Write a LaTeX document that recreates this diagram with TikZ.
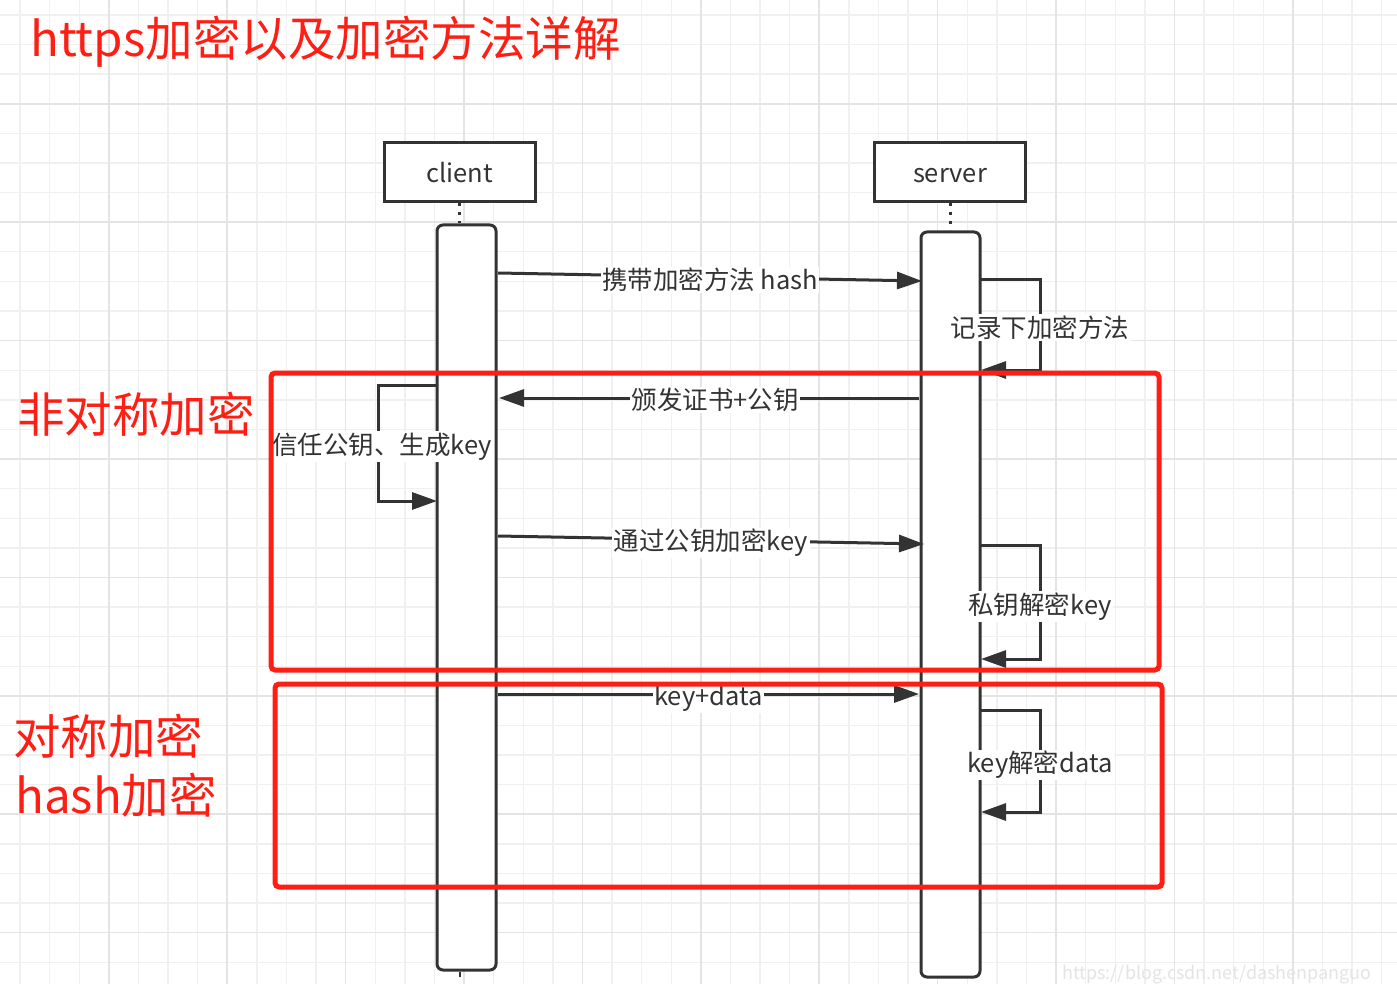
\documentclass[tikz,border=0pt]{standalone}
\usepackage{fontspec}
\setmainfont{Noto Sans CJK SC}
\usetikzlibrary{arrows.meta}
\definecolor{ink}{HTML}{333333}
\definecolor{redmark}{HTML}{FF1E14}
\definecolor{gridminor}{HTML}{F0F0F0}
\definecolor{gridmajor}{HTML}{E4E4E4}
\tikzset{
  minorline/.style={draw=gridminor, line width=1.4pt},
  majorline/.style={draw=gridmajor, line width=1.6pt},
  actor/.style={draw=ink, line width=3pt, fill=white, minimum width=151pt, minimum height=59pt, inner sep=0pt, text height=21pt, text depth=0pt, text=ink, font=\fontsize{25.5}{30}\selectfont},
  actbar/.style={draw=ink, line width=3pt, fill=white, rounded corners=6pt, minimum width=59pt, minimum height=745pt, inner sep=0pt},
  lifeline/.style={draw=ink, line width=3pt, dash pattern=on 3pt off 6pt},
  msg/.style={draw=ink, line width=3pt, -{Triangle[length=25pt,width=17pt]}},
  lbl/.style={fill=white, inner sep=1.5pt, text=ink, font=\fontsize{25.5}{30}\selectfont},
  redbox/.style={draw=redmark, line width=5pt, rounded corners=4pt},
  redtext/.style={text=redmark, inner sep=0pt, anchor=west, font=\fontsize{47.5}{56}\selectfont},
}
\begin{document}
\begin{tikzpicture}[x=1pt,y=-1pt]
\useasboundingbox (0,0) rectangle (1397,984);
\clip (0,0) rectangle (1397,984);
\fill[white] (0,0) rectangle (1397,984);
% grid
\foreach \i in {0,...,46} {\draw[minorline] ({20+29.6*\i},0) -- ++(0,984);}
\foreach \i in {0,...,33} {\draw[minorline] (0,{15+29.6*\i}) -- ++(1397,0);}
\foreach \i in {0,...,11} {\draw[majorline] ({108.8+118.4*\i},0) -- ++(0,984);}
\foreach \i in {0,...,7} {\draw[majorline] (0,{103.8+118.4*\i}) -- ++(1397,0);}

% title and side labels
\node[redtext] (title) at (30,42) {https加密以及加密方法详解};
\node[redtext] (asym) at (17,414) {非对称加密};
\node[redtext] (sym) at (13,736) {对称加密};
\node[redtext] (hashl) at (15,795) {hash加密};

% actors
\node[actor] (client) at (459.5,172.5) {client};
\node[actor] (server) at (950,172.5) {server};
\node[actbar] (cbar) at (466.5,597.5) {};
\node[actbar] (sbar) at (950.5,604.5) {};
\coordinate (ctail) at (459.5,977);
\draw[lifeline] (client.south) -- (client.south |- cbar.north);
\draw[lifeline] (server.south) -- (server.south |- sbar.north);
\draw[ink, line width=2pt] (cbar.south -| client.south) -- (ctail);

% message end points
\coordinate (m1a) at (498,273);
\coordinate (m1b) at (922,281);
\coordinate (s1a) at (981,280);
\coordinate (s1b) at (1040,280);
\coordinate (s1c) at (1040,370);
\coordinate (s1d) at (981,370);
\coordinate (m2a) at (919,398);
\coordinate (m2b) at (499,398);
\coordinate (c1a) at (437,385);
\coordinate (c1b) at (378,385);
\coordinate (c1c) at (378,501);
\coordinate (c1d) at (437,501);
\coordinate (m3a) at (498,536);
\coordinate (m3b) at (924,544);
\coordinate (s2a) at (981,545);
\coordinate (s2b) at (1040,545);
\coordinate (s2c) at (1040,659);
\coordinate (s2d) at (981,659);
\coordinate (m4a) at (498,694);
\coordinate (m4b) at (919,694);
\coordinate (s3a) at (981,710);
\coordinate (s3b) at (1040,710);
\coordinate (s3c) at (1040,812);
\coordinate (s3d) at (981,812);

% messages
\draw[msg] (m1a) -- node[lbl, pos=0.5, yshift=-3pt] (l1) {携带加密方法 hash} (m1b);
\draw[msg] (s1a) -- (s1b) -- node[lbl, pos=0.53] (l2) {记录下加密方法} (s1c) -- (s1d);
\draw[msg] (m2a) -- node[lbl, pos=0.485, yshift=-2pt] (l3) {颁发证书+公钥} (m2b);
\draw[msg] (c1a) -- (c1b) -- node[lbl, pos=0.53, xshift=4pt] (l4) {信任公钥、生成key} (c1c) -- (c1d);
\draw[msg] (m3a) -- node[lbl, pos=0.5, yshift=-3pt] (l5) {通过公钥加密key} (m3b);
\draw[msg] (s2a) -- (s2b) -- node[lbl, pos=0.54] (l6) {私钥解密key} (s2c) -- (s2d);
\draw[msg] (m4a) -- node[lbl, pos=0.5, yshift=-4pt] (l7) {key+data} (m4b);
\draw[msg] (s3a) -- (s3b) -- node[lbl, pos=0.54] (l8) {key解密data} (s3c) -- (s3d);

% red frames
\draw[redbox] (271,373) rectangle (1159,670);
\draw[redbox] (275,684) rectangle (1162,887);

% watermark
\node[anchor=base west, inner sep=0pt, text=gridmajor, font=\fontsize{18}{22}\selectfont] (wm) at (1062,979) {https://blog.csdn.net/dashenpanguo};
\end{tikzpicture}
\end{document}
